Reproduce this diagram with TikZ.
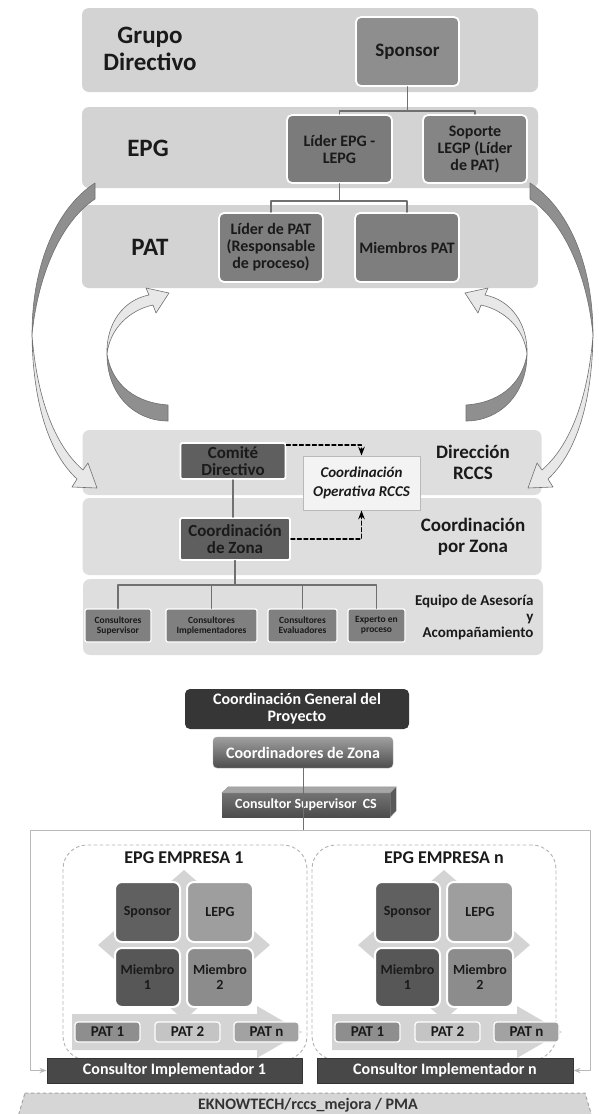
\documentclass[tikz,border=0pt]{standalone}
\usepackage{fontspec}
\setmainfont{Carlito}
\usetikzlibrary{arrows.meta}

% greys of the chart
\definecolor{bandtop}{HTML}{D3D3D3}
\definecolor{bandlow}{HTML}{DEDEDE}
\definecolor{boxA}{HTML}{8E8E8E}
\definecolor{boxB}{HTML}{7B7B7B}
\definecolor{boxC}{HTML}{858585}
\definecolor{boxD}{HTML}{7E7E7E}
\definecolor{darkbox}{HTML}{5F5F5F}
\definecolor{opbox}{HTML}{F3F3F3}
\definecolor{eqbox}{HTML}{808080}
\definecolor{cgpfill}{HTML}{363636}
\definecolor{quadA}{HTML}{606060}
\definecolor{quadB}{HTML}{9E9E9E}
\definecolor{quadC}{HTML}{575757}
\definecolor{quadD}{HTML}{8C8C8C}
\definecolor{patA}{HTML}{8E8E8E}
\definecolor{patB}{HTML}{C4C4C4}
\definecolor{patC}{HTML}{A2A2A2}
\definecolor{diamfill}{HTML}{D4D4D4}
\definecolor{implfill}{HTML}{484848}
\definecolor{ekfill}{HTML}{D6D6D6}
\definecolor{arcdkfill}{HTML}{8F8F8F}
\definecolor{arcltfill}{HTML}{E8E8E8}
\definecolor{arcline}{HTML}{707070}
\definecolor{inkdark}{HTML}{1A1A1A}

\tikzset{
  sz/.style 2 args={minimum width=#1pt, minimum height=#2pt},
  band/.style={fill=bandtop, rounded corners=7pt, inner sep=0pt},
  bandlt/.style={fill=bandlow, rounded corners=7pt, inner sep=0pt},
  lbl/.style={align=center, text=inkdark, font=\bfseries\fontsize{25}{27}\selectfont},
  sidelbl/.style={align=center, text=inkdark, font=\bfseries\fontsize{19}{21}\selectfont},
  orgbox/.style={draw=white, line width=1.8pt, rounded corners=5pt, align=center,
    inner sep=1pt, text=inkdark, font=\bfseries\fontsize{16}{17}\selectfont},
  dkbox/.style={orgbox, fill=darkbox, rounded corners=2pt, text=inkdark,
    font=\bfseries\fontsize{17}{17}\selectfont},
  eqsmall/.style={orgbox, fill=eqbox, rounded corners=2pt, line width=1.2pt, inner sep=0pt,
    font=\bfseries\fontsize{9.5}{10}\selectfont},
  conn/.style={draw=arcline, line width=1.2pt},
  dashline/.style={draw=black, line width=1.3pt, dash pattern=on 4pt off 2.5pt},
  arcdk/.style={fill=arcdkfill, draw=arcline, line width=0.6pt},
  arclt/.style={fill=arcltfill, draw=arcline, line width=0.6pt},
  whitetxt/.style={text=white, align=center, font=\bfseries\fontsize{16}{17}\selectfont},
  quad/.style={draw=white, line width=2pt, rounded corners=7pt, align=center,
    text=inkdark, font=\bfseries\fontsize{14}{15}\selectfont},
  patbox/.style={draw=white, line width=1.2pt, rounded corners=3pt, sz={65}{20},
    inner sep=0pt, text=inkdark, font=\bfseries\fontsize{15}{15}\selectfont},
  empbox/.style={draw=gray!60, dashed, line width=0.9pt, rounded corners=24pt},
  frame/.style={draw=gray!55, line width=0.9pt},
}

% curved arrows between the two charts
\newcommand\innerloop{%
  \filldraw[arcdk] (107,354) .. controls (107,395) and (135,421) .. (168,421)
    -- (168,405) .. controls (137,403) and (112,386) .. (107,354) -- cycle;
  \filldraw[arclt] (107,354) .. controls (110,328) and (130,310) .. (153,305)
    -- (156,313) -- (169,293) -- (146,288) -- (149,295)
    .. controls (123,300) and (106,324) .. (107,354) -- cycle;
}
\newcommand\outerloop{%
  \filldraw[arcdk] (32,335) .. controls (32,262) and (58,207) .. (95,183)
    -- (95,199) .. controls (63,220) and (38,272) .. (32,335) -- cycle;
  \filldraw[arclt] (32,335) .. controls (33,410) and (52,456) .. (77,479)
    -- (72,487) -- (97,488) -- (88,463) -- (83,470)
    .. controls (60,450) and (38,410) .. (32,335) -- cycle;
}

\begin{document}
\begin{tikzpicture}[x=1pt, y=-1pt, line cap=round, line join=round, >=Stealth]
  \useasboundingbox (0,0) rectangle (598,1114);

  % Bands of the upper chart
  \node[band, sz={456}{84}] (gdband) at (310,50) {};
  \node[band, sz={456}{81}] (epgband) at (310,147.5) {};
  \node[band, sz={456}{83}] (patband) at (310,246.5) {};
  \node[bandlt, sz={459}{65}] (dirband) at (312,462.5) {};
  \node[bandlt, sz={459}{77}] (zonaband) at (312,536.5) {};
  \node[bandlt, sz={460}{76}] (eqband) at (313,617) {};

  % Row labels
  \node[lbl] (gdlbl) at (150,49) {Grupo\\Directivo};
  \node[lbl] (epglbl) at (148,148) {EPG};
  \node[lbl] (patlbl) at (150,247) {PAT};
  \node[sidelbl] (dirlbl) at (473,462) {Dirección\\RCCS};
  \node[sidelbl] (zonalbl) at (473,537) {Coordinación\\por Zona};
  \node[align=right, anchor=east, text=inkdark, font=\bfseries\fontsize{15}{16}\selectfont]
    (eqlbl) at (537,617) {Equipo de Asesoría\\y\\Acompañamiento};

  % Boxes of the upper chart
  \node[orgbox, fill=boxA, sz={103}{69}, font=\bfseries\fontsize{19}{19}\selectfont]
    (sponsor) at (407.5,51.5) {Sponsor};
  \node[orgbox, fill=boxB, sz={105}{68}] (lepg) at (339.5,149) {Líder EPG -\\LEPG};
  \node[orgbox, fill=boxC, sz={104}{68}] (soporte) at (475,149) {Soporte\\LEGP (Líder\\de PAT)};
  \node[orgbox, fill=boxD, sz={104}{69}] (liderpat) at (271,247.5) {Líder de PAT\\(Responsable\\de proceso)};
  \node[orgbox, fill=boxD, sz={104}{69}] (miembros) at (407,247.5) {Miembros PAT};

  \draw[conn] (sponsor.south) -- ++(0,24) -| (lepg.north);
  \draw[conn] (sponsor.south) -- ++(0,24) -| (soporte.north);
  \draw[conn] (lepg.south) -- ++(0,17) -| (liderpat.north);
  \draw[conn] (lepg.south) -- ++(0,17) -| (miembros.north);

  % RCCS part
  \node[dkbox, sz={105}{36}, inner sep=0pt] (comite) at (233,461) {Comité\\Directivo};
  \node[dkbox, sz={110}{42}, inner sep=0pt] (coordzona) at (235,539) {Coordinación\\de Zona};
  \node[draw=gray!55, line width=1pt, fill=opbox, sz={117}{54}, align=center, text=inkdark,
    font=\bfseries\itshape\fontsize{15}{19}\selectfont] (coordop) at (361.5,483)
    {Coordinación\\Operativa RCCS};

  \draw[conn] (comite.south) -- (comite.south |- coordzona.north);
  \draw[dashline, ->] ([yshift=-3pt]comite.north east) -| (coordop.north);
  \draw[dashline, ->] (coordzona.east) -| (coordop.south);

  \node[eqsmall, sz={66}{33}] (esup) at (118,625.5) {Consultores\\Supervisor};
  \node[eqsmall, sz={91}{33}] (eimp) at (211.5,625.5) {Consultores\\Implementadores};
  \node[eqsmall, sz={69}{33}] (eeva) at (302.5,625.5) {Consultores\\Evaluadores};
  \node[eqsmall, sz={57}{33}] (eexp) at (376.5,625.5) {Experto en\\proceso};
  \foreach \nm in {esup, eimp, eeva, eexp}
    \draw[conn] (coordzona.south) -- ++(0,24) -| (\nm.north);

  % Curved arrows
  \innerloop
  \begin{scope}[xshift=634, xscale=-1]
    \innerloop
  \end{scope}
  \outerloop
  \begin{scope}[xshift=625, xscale=-1]
    \outerloop
  \end{scope}

  % Lower chart
  \node[fill=cgpfill, rounded corners=5pt, whitetxt, sz={224}{40}, inner sep=0pt]
    (cgp) at (297,709) {Coordinación General del\\Proyecto};
  \node[top color=gray!75, bottom color=black!70, draw=gray!70, rounded corners=4pt,
    whitetxt, sz={180}{31}] (cz) at (303,752.5) {Coordinadores de Zona};

  \node[top color=black!55, bottom color=black!70, whitetxt, sz={168}{24}, inner sep=0pt,
    font=\bfseries\fontsize{14}{14}\selectfont] (cs) at (306,805) {Consultor Supervisor\ \ CS};
  \filldraw[fill=gray!70, draw=gray!80] (cs.north west) -- (cs.north east) -- ++(6,-6) -- ++(-168,0) -- cycle;
  \filldraw[fill=black!65, draw=gray!80] (cs.north east) -- ++(6,-6) -- ++(0,24) -- (cs.south east) -- cycle;

  \coordinate (frametop) at (303,830);
  \draw[conn, line width=0.8pt] (cz.south) -- (frametop);

  % the two companies
  \foreach \ox/\en/\id/\bx in {0/1/a/185, 260/n/b/174}{
    \begin{scope}[xshift=\ox]
      \node[empbox, sz={244}{215}] (emp-\id) at (\bx,952.5) {};
      \node[font=\bfseries\fontsize{18}{18}\selectfont, text=inkdark] (title-\id) at (184,858) {EPG EMPRESA \en};
      \fill[diamfill] (184,870) -- (270,945) -- (184,1020) -- (98,945) -- cycle;
      \fill[diamfill] (72,1014) -- (257,1014) -- (257,1006) -- (302,1032) -- (257,1058) -- (257,1050) -- (72,1050) -- cycle;
      \node[quad, fill=quadA, sz={65}{60}] (spon-\id) at (147.5,912) {Sponsor};
      \node[quad, fill=quadB, sz={66}{60}] (lepg-\id) at (220,912) {LEPG};
      \node[quad, fill=quadC, sz={65}{59}] (memA-\id) at (147.5,977.5) {Miembro\\1};
      \node[quad, fill=quadD, sz={66}{59}] (memB-\id) at (220,977.5) {Miembro\\2};
      \node[patbox, fill=patA] (patA-\id) at (107.5,1032) {PAT 1};
      \node[patbox, fill=patB] (patB-\id) at (187.5,1032) {PAT 2};
      \node[patbox, fill=patC] (patC-\id) at (266.5,1032) {PAT n};
    \end{scope}
  }

  \node[fill=implfill, draw=black!80, line width=1pt, whitetxt, sz={255}{25}, inner sep=0pt]
    (impl-a) at (174.5,1070.5) {Consultor Implementador 1};
  \node[fill=implfill, draw=black!80, line width=1pt, whitetxt, sz={256}{25}, inner sep=0pt]
    (impl-b) at (445,1070.5) {Consultor Implementador n};

  \draw[frame, ->] (frametop) -| (30,1070.5) -- (impl-a.west);
  \draw[frame, ->] (frametop) -| (590,1070.5) -- (impl-b.east);

  % footer
  \filldraw[fill=ekfill, draw=gray!70, dashed, line width=1pt] (25,1093) -- (585,1093) -- (593,1120) -- (17,1120) -- cycle;
  \node[text=black!80, font=\bfseries\fontsize{16}{16}\selectfont] (ek) at (308,1105) {EKNOWTECH/rccs\_mejora / PMA};
\end{tikzpicture}
\end{document}
